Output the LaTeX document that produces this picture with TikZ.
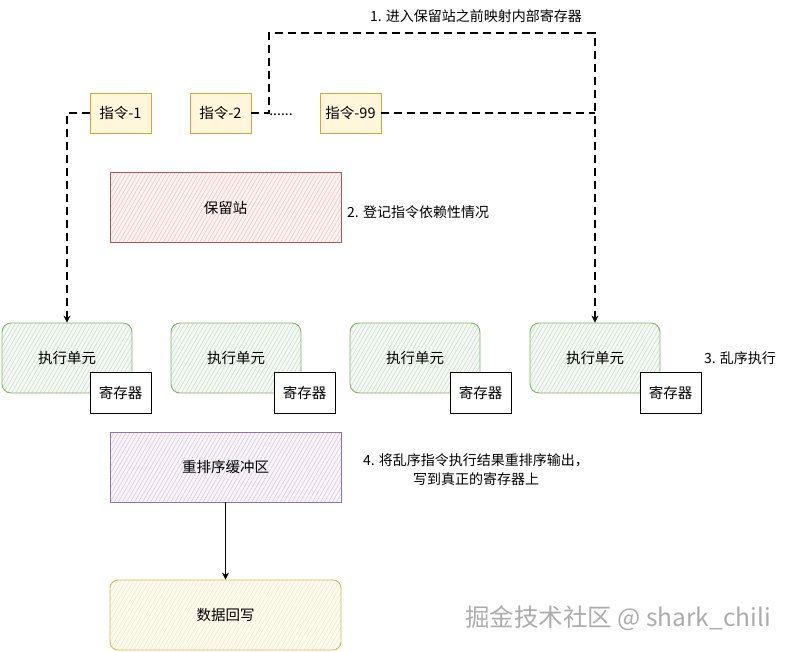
\documentclass[tikz,border=0pt]{standalone}
\usepackage{fontspec}
\setmainfont{Noto Sans CJK SC}
\usetikzlibrary{patterns.meta,arrows.meta}
\definecolor{insS}{HTML}{D6A633}
\definecolor{insF}{HTML}{FFF2CC}
\definecolor{redS}{HTML}{B85450}
\definecolor{redF}{HTML}{F8CECC}
\definecolor{grnS}{HTML}{82B366}
\definecolor{grnF}{HTML}{D5E8D4}
\definecolor{purS}{HTML}{9673A6}
\definecolor{purF}{HTML}{E1D5E7}
\definecolor{yelS}{HTML}{D6B656}
\definecolor{yelF}{HTML}{FFF2CC}
\tikzset{
  base/.style={draw, line width=0.9pt, inner sep=0pt, align=center,
    font=\fontsize{14.5}{17}\selectfont},
  hatched/.style 2 args={base, draw=#1, preaction={fill=#2!25!white},
    pattern={Lines[angle=60,distance=3.5pt,line width=0.6pt]}, pattern color=#2!90!gray},
  instr/.style={base, draw=insS, fill=insF!70!white, minimum width=61pt, minimum height=40pt},
  resv/.style={hatched={redS}{redF}, minimum width=231pt, minimum height=70pt},
  exec/.style={hatched={grnS}{grnF}, rounded corners=9pt, minimum width=130pt, minimum height=70pt},
  regb/.style={base, draw=black, fill=white, minimum width=61pt, minimum height=41pt},
  rob/.style={hatched={purS}{purF}, minimum width=231pt, minimum height=70pt},
  wb/.style={hatched={yelS}{yelF}, rounded corners=8pt, minimum width=231pt, minimum height=70pt},
  lbl/.style={inner sep=0pt, align=center, font=\fontsize{14}{19}\selectfont},
  dconn/.style={line width=1.2pt, dash pattern=on 8pt off 5pt},
  tip/.style={-{Stealth[length=7pt,width=7pt]}}
}
\begin{document}
\begin{tikzpicture}[x=1pt,y=-1pt]
\useasboundingbox (0,0) rectangle (791,651);

% instructions
\node[instr] (i1) at (120.5,113) {指令-1};
\node[instr] (i2) at (220.5,113) {指令-2};
\node[lbl] (dots) at (281,115) {......};
\node[instr] (i99) at (350.5,113) {指令-99};

% reservation station
\node[resv] (rs) at (225.5,207.5) {保留站};
\node[lbl, anchor=west] (l2) at (347,212) {2. 登记指令依赖性情况};

% execution units
\node[exec] (e1) at (67,358) {执行单元};
\node[exec] (e2) at (236,358) {执行单元};
\node[exec] (e3) at (415,358) {执行单元};
\node[exec] (e4) at (595,358) {执行单元};
\node[regb] (r1) at (120.5,392.5) {寄存器};
\node[regb] (r2) at (304.5,392.5) {寄存器};
\node[regb] (r3) at (480.5,392.5) {寄存器};
\node[regb] (r4) at (670.5,392.5) {寄存器};
\node[lbl] (l3) at (740,358) {3. 乱序执行};

% reorder buffer and write back
\node[rob] (rob) at (225.5,467) {重排序缓冲区};
\node[lbl] (l4) at (476,470) {4. 将乱序指令执行结果重排序输出，\\写到真正的寄存器上};
\node[wb] (wb) at (225.5,615) {数据回写};

% label 1
\node[lbl] (l1) at (476,16) {1. 进入保留站之前映射内部寄存器};

% connectors
\coordinate (t1) at (269,33);
\draw[dconn, tip] (i1.west) -| (e1.north);
\draw[dconn, tip] (i2.east) -| (t1) -| (e4.north);
\draw[dconn] (i99.east) -- (i99.east -| e4.north);
\draw[line width=1pt, tip] (rob.south) -- (wb.north);

% watermark
\node[inner sep=0pt, text=gray!65, font=\fontsize{24.5}{28}\selectfont] (wm) at (618,618) {掘金技术社区 @ shark\_chili};
\end{tikzpicture}
\end{document}
